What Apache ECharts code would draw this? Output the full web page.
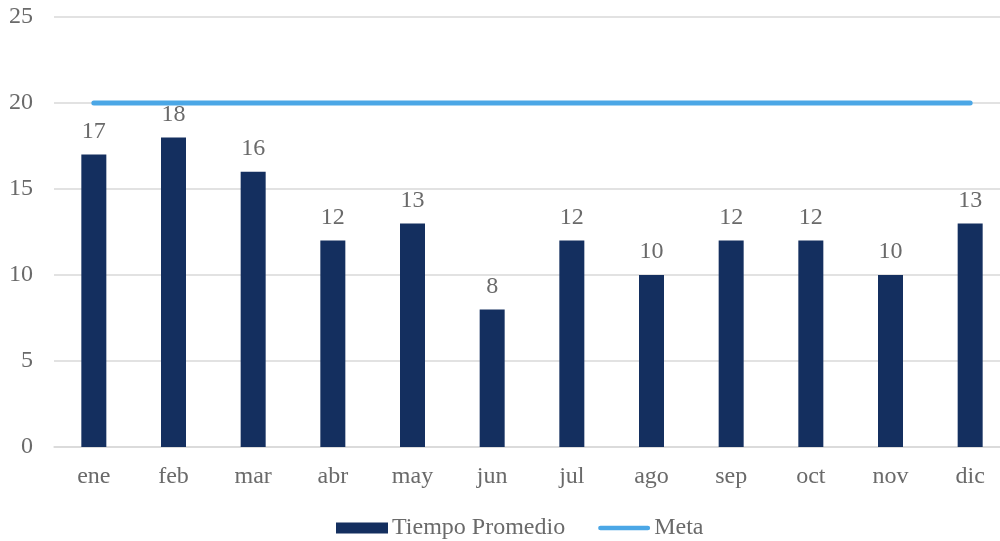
<!DOCTYPE html>
<html>
<head>
<meta charset="utf-8">
<script src="https://cdn.jsdelivr.net/npm/echarts@6/dist/echarts.min.js"></script>
<style>html,body{margin:0;padding:0;background:#fff;overflow:hidden}#c{width:1010px;height:541px}</style>
</head>
<body>
<div id="c"></div>
<script>
const categories = ['ene','feb','mar','abr','may','jun','jul','ago','sep','oct','nov','dic'];
const tiempoPromedio = [17,18,16,12,13,8,12,10,12,12,10,13];
const meta = [20,20,20,20,20,20,20,20,20,20,20,20];
const yTicks = [0,5,10,15,20,25];

const txt = '#6a6a6a';
const font = '"Liberation Serif", "Times New Roman", serif';
const chart = echarts.init(document.getElementById('c'), null, {renderer:'canvas'});
chart.setOption({
  animation:false,
  textStyle:{fontFamily:font},
  grid:{left:54, top:17, width:956, height:430, containLabel:false},
  legend:{
    left:336, top:516, padding:0, itemGap:33, itemWidth:52, itemHeight:11,
    textStyle:{fontFamily:font, fontSize:24, color:txt, padding:[0,0,0,-1]},
    data:[
      {name:'Tiempo Promedio', icon:'rect'},
      {name:'Meta', icon:'path://M2.5,0 H53.5 A2.5,2.5 0 0 1 53.5,5 H2.5 A2.5,2.5 0 0 1 2.5,0 Z'}
    ]
  },
  xAxis:{
    type:'category', data:categories,
    axisLine:{lineStyle:{color:'#d9d9d9', width:1.5}},
    axisTick:{show:false},
    axisLabel:{fontFamily:font, fontSize:24, color:txt, margin:18}
  },
  yAxis:{
    type:'value', min:yTicks[0], max:yTicks[yTicks.length-1], interval:5,
    axisLine:{show:false}, axisTick:{show:false},
    splitLine:{lineStyle:{color:'#d9d9d9', width:1.5}},
    axisLabel:{fontFamily:font, fontSize:24, color:txt, margin:21}
  },
  series:[
    {
      name:'Tiempo Promedio', type:'bar', data:tiempoPromedio, barWidth:25,
      itemStyle:{color:'#142F5F'},
      label:{show:true, position:'top', distance:11, fontFamily:font, fontSize:24, color:txt}
    },
    {
      name:'Meta', type:'line', data:meta, symbol:'none',
      lineStyle:{color:'#4BA7E6', width:5, cap:'round'},
      itemStyle:{color:'#4BA7E6'}
    }
  ]
});
</script>
</body>
</html>
